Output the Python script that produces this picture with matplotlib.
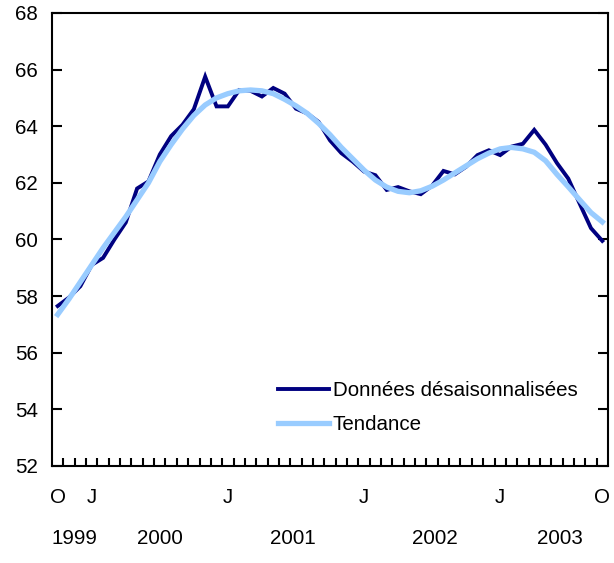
import numpy as np
import matplotlib.pyplot as plt
from matplotlib.transforms import blended_transform_factory

plt.rcParams['font.family'] = ['Liberation Sans', 'DejaVu Sans']

# Monthly data, Oct 1999 to Oct 2003
sa_data = [57.65, 57.95, 58.35, 59.1, 59.35, 60.0, 60.6, 61.8, 62.05, 63.0,
           63.65, 64.05, 64.6, 65.75, 64.7, 64.7, 65.28, 65.25, 65.05, 65.35,
           65.15, 64.62, 64.45, 64.15, 63.5, 63.05, 62.75, 62.4, 62.27, 61.75,
           61.85, 61.7, 61.6, 61.9, 62.42, 62.3, 62.57, 62.98, 63.15, 62.98,
           63.28, 63.38, 63.87, 63.35, 62.7, 62.15, 61.27, 60.4, 59.95]
trend = [57.35, 57.9, 58.5, 59.1, 59.7, 60.25, 60.8, 61.4, 62.0, 62.75,
         63.35, 63.9, 64.38, 64.75, 65.0, 65.15, 65.25, 65.28, 65.25, 65.15,
         64.95, 64.72, 64.45, 64.1, 63.7, 63.25, 62.85, 62.45, 62.1, 61.85,
         61.7, 61.65, 61.72, 61.88, 62.1, 62.35, 62.6, 62.85, 63.05, 63.2,
         63.25, 63.2, 63.08, 62.78, 62.3, 61.86, 61.4, 60.95, 60.62]

month_labels = {0: 'O', 3: 'J', 15: 'J', 27: 'J', 39: 'J', 48: 'O'}
years = ['1999', '2000', '2001', '2002', '2003']
year_pos = [1.5, 9.0, 20.7, 33.2, 44.3]

x = np.arange(len(sa_data))
fs = 14.8

fig = plt.figure(figsize=(6.14, 5.63), dpi=100)
ax = fig.add_axes([0.0847, 0.1723, 0.9055, 0.8047])

ax.plot(x, sa_data, color='#000080', lw=2.8, label='Données désaisonnalisées',
        solid_joinstyle='miter', zorder=2)
ax.plot(x, trend, color='#99CCFF', lw=3.8, label='Tendance', zorder=3)

ax.set_xlim(-0.5, len(sa_data) - 0.5)
ax.set_ylim(52, 68)
ax.set_yticks(np.arange(52, 69, 2))
ax.tick_params(axis='y', direction='in', length=7, width=1.5, labelsize=fs,
               right=True, pad=10)

ax.set_xticks(list(month_labels.keys()))
ax.set_xticklabels(list(month_labels.values()))
ax.set_xticks(np.arange(0.5, len(sa_data) - 1, 1), minor=True)
ax.tick_params(axis='x', which='major', length=0, labelsize=fs, pad=16)
ax.tick_params(axis='x', which='minor', direction='in', length=6, width=1.5)

for s in ax.spines.values():
    s.set_linewidth(1.5)

trans = blended_transform_factory(ax.transData, ax.transAxes)
for yr, p in zip(years, year_pos):
    ax.text(p, -0.16, yr, transform=trans, ha='center', va='center', fontsize=fs)

ax.legend(loc='lower left', bbox_to_anchor=(0.392, 0.052), frameon=False,
          fontsize=fs, handlelength=2.45, handletextpad=0.2, labelspacing=0.75,
          borderaxespad=0)

fig.savefig('out.png', dpi=100)
